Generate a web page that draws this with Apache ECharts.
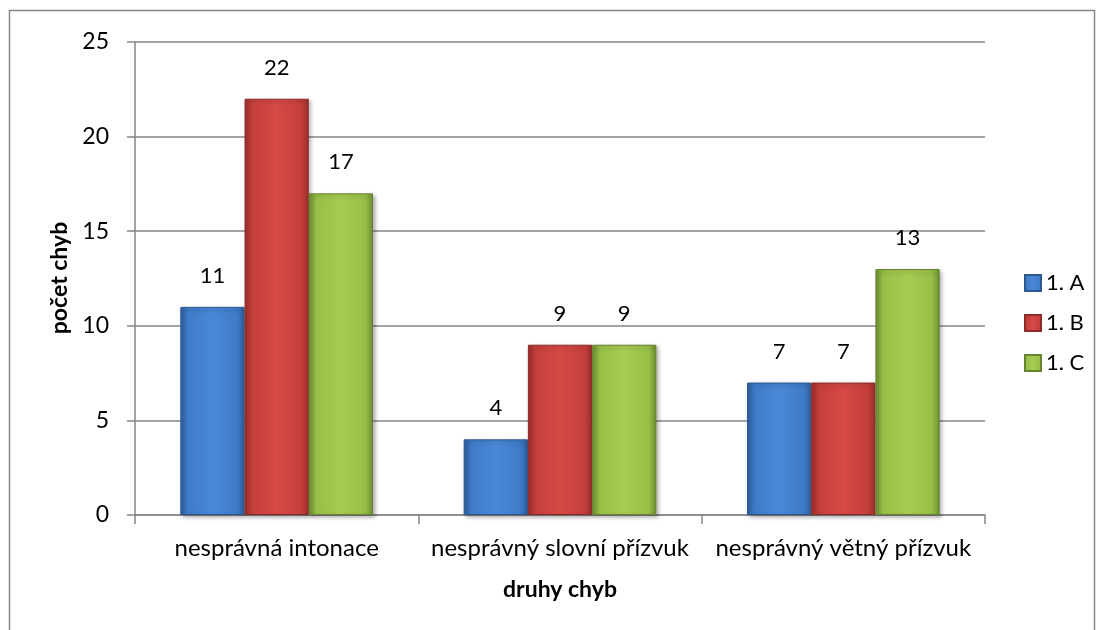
<!DOCTYPE html>
<html lang="cs">
<head>
    <meta charset="UTF-8">
    <title>Druhy chyb</title>
    <script src="https://cdn.jsdelivr.net/npm/echarts@6/dist/echarts.min.js"></script>
    <style>
        html, body { margin: 0; padding: 0; background: #fff; }
        #chart { width: 1104px; height: 630px; }
    </style>
</head>
<body>
    <div id="chart"></div>
    <script>
        var categories = ['nesprávná intonace', 'nesprávný slovní přízvuk', 'nesprávný větný přízvuk'];
        var classA = [11, 4, 7];
        var classB = [22, 9, 7];
        var classC = [17, 9, 13];
        var yTicks = [0, 5, 10, 15, 20, 25];

        var font = 'Lato, "Open Sans", sans-serif';

        function grad(light, mid, dark) {
            return new echarts.graphic.LinearGradient(0, 0, 1, 0, [
                { offset: 0, color: dark },
                { offset: 0.12, color: mid },
                { offset: 0.5, color: light },
                { offset: 0.88, color: mid },
                { offset: 1, color: dark }
            ]);
        }

        function barSeries(name, values, fill, border) {
            return {
                name: name,
                type: 'bar',
                data: values,
                barGap: '0%',
                barCategoryGap: '32%',
                itemStyle: {
                    color: fill,
                    borderColor: border,
                    borderWidth: 1,
                    shadowColor: 'rgba(0,0,0,0.3)',
                    shadowBlur: 4,
                    shadowOffsetX: 2,
                    shadowOffsetY: 2
                },
                label: {
                    show: true,
                    position: 'top',
                    distance: 20,
                    color: '#000',
                    fontSize: 22,
                    fontFamily: font
                }
            };
        }

        var chart = echarts.init(document.getElementById('chart'));

        chart.setOption({
            animation: false,
            graphic: [{
                type: 'rect',
                shape: { x: 9.5, y: 10.5, width: 1085, height: 630 },
                style: { fill: 'none', stroke: '#868686', lineWidth: 1.5 }
            }, {
                // y axis title, placed by hand (axis name kept jumping around)
                type: 'text',
                x: 60,
                y: 278,
                rotation: Math.PI / 2,
                style: {
                    text: 'počet chyb',
                    align: 'center',
                    verticalAlign: 'middle',
                    fill: '#000',
                    font: 'bold 23px ' + font
                }
            }],
            grid: { left: 135, right: 119, top: 42, bottom: 115 },
            legend: {
                orient: 'vertical',
                left: 1019,
                top: 267,
                itemWidth: 16,
                itemHeight: 16,
                itemGap: 18,
                icon: 'rect',
                textStyle: { fontSize: 22, lineHeight: 22, fontFamily: font, color: '#000' },
                data: ['1. A', '1. B', '1. C']
            },
            xAxis: {
                type: 'category',
                data: categories,
                name: 'druhy chyb',
                nameLocation: 'middle',
                nameGap: 63,
                nameMoveOverlap: false,
                nameTextStyle: { fontSize: 23, fontWeight: 'bold', fontFamily: font, color: '#000' },
                axisLine: { lineStyle: { color: '#868686', width: 1.5 } },
                axisTick: { show: true, length: 9, lineStyle: { color: '#868686', width: 1.5 } },
                axisLabel: { interval: 0, hideOverlap: false, fontSize: 24, fontFamily: font, color: '#000', margin: 21 }
            },
            yAxis: {
                type: 'value',
                min: yTicks[0],
                max: yTicks[yTicks.length - 1],
                interval: 5,
                axisLine: { show: true, lineStyle: { color: '#868686', width: 1.5 } },
                axisTick: { show: true, length: 8, lineStyle: { color: '#868686', width: 1.5 } },
                axisLabel: { fontSize: 23, fontFamily: font, color: '#000', margin: 26 },
                splitLine: { lineStyle: { color: '#868686', width: 1.5 } }
            },
            series: [
                barSeries('1. A', classA, grad('#4a88d6', '#3f7bc7', '#2f5f9e'), '#2c578f'),
                barSeries('1. B', classB, grad('#d64a47', '#c43f3c', '#9c2f2d'), '#8e2b29'),
                barSeries('1. C', classC, grad('#a6cc52', '#97bf47', '#6f8f33'), '#67832f')
            ]
        });
    </script>
</body>
</html>
